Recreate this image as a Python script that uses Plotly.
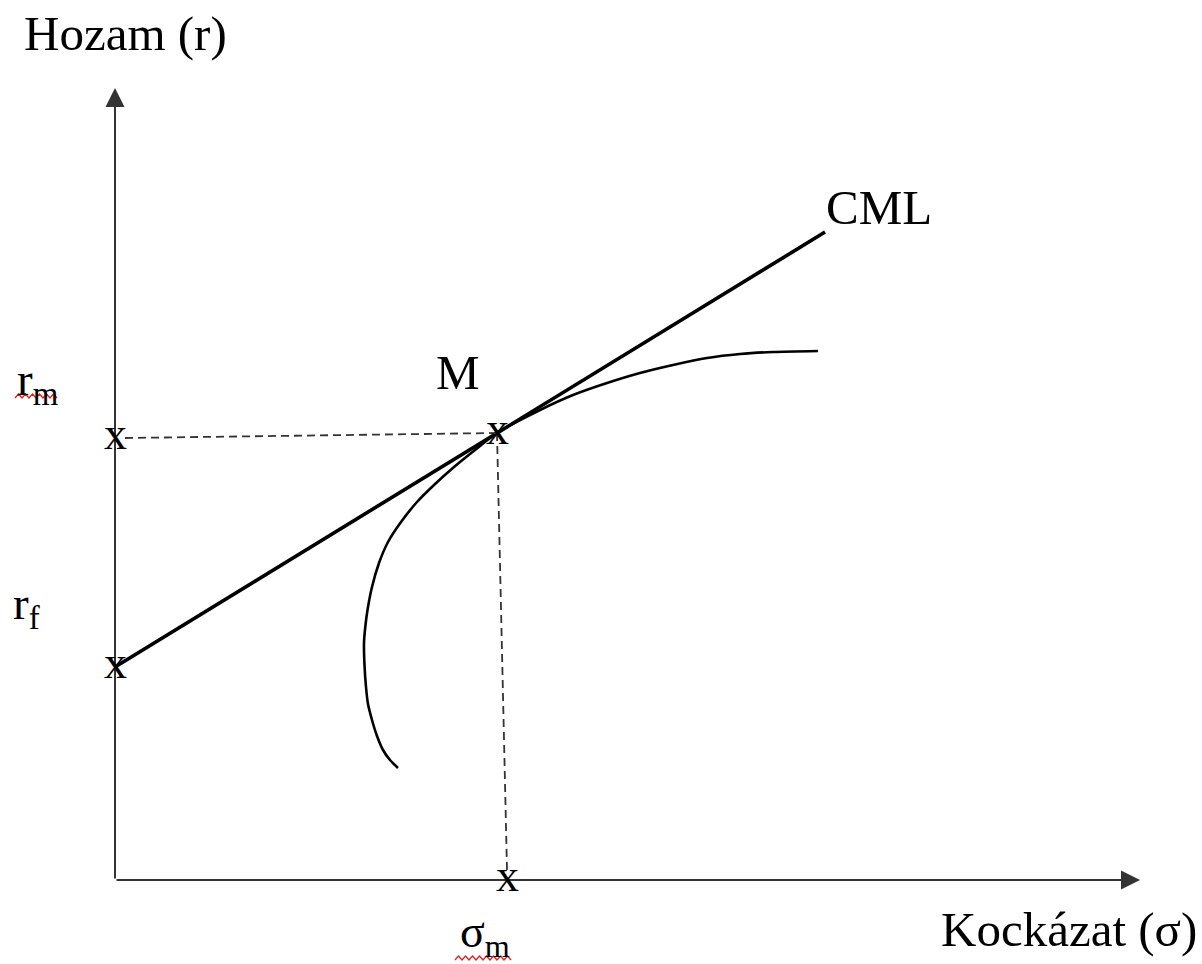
import plotly.graph_objects as go
import numpy as np

# ---- data (diagram units: sigma on x, return on y) ----
rf = 2.13            # risk-free return (CML intercept)
sigma_m = 3.82       # market portfolio risk
r_m = 4.47           # market portfolio return
cml_end_sigma = 7.10 # where the drawn CML stops
rm_tick_r = 4.42     # r_m marker on the vertical axis
sigma_tick = 3.92    # sigma_m marker on the horizontal axis

# efficient frontier
front_sigma = [2.83, 2.75, 2.68, 2.62, 2.57, 2.53, 2.51, 2.495, 2.49, 2.505, 2.525, 2.57,
               2.64, 2.73, 2.86, 3.02, 3.19, 3.39, 3.60, 3.82, 4.25, 4.58, 4.92, 5.25,
               5.58, 5.92, 6.25, 6.58, 7.03]
front_r = [1.12, 1.20, 1.30, 1.44, 1.60, 1.76, 1.93, 2.15, 2.37, 2.55, 2.70, 2.93,
           3.17, 3.38, 3.58, 3.78, 3.95, 4.13, 4.30, 4.47, 4.70, 4.85, 4.97, 5.07,
           5.15, 5.22, 5.26, 5.28, 5.29]

x_axis_end = 10.25
y_axis_end = 7.92

FONT = "Liberation Serif"
INK = "#000000"

slope = (r_m - rf) / sigma_m
cml_x = [0, sigma_m, cml_end_sigma]
cml_y = [rf, r_m, rf + slope * cml_end_sigma]

fig = go.Figure()

# efficient frontier
fig.add_trace(go.Scatter(x=front_sigma, y=front_r, mode="lines",
                         line=dict(color=INK, width=2.6, shape="spline", smoothing=0.7),
                         hoverinfo="skip", showlegend=False))
# CML
fig.add_trace(go.Scatter(x=cml_x, y=cml_y, mode="lines",
                         line=dict(color=INK, width=3.6),
                         hoverinfo="skip", showlegend=False))
# dashed guides
fig.add_trace(go.Scatter(x=[0.1, sigma_m], y=[rm_tick_r, r_m], mode="lines",
                         line=dict(color="#333", width=1.8, dash="8px,5px"),
                         hoverinfo="skip", showlegend=False))
fig.add_trace(go.Scatter(x=[sigma_m, sigma_tick], y=[r_m, 0.1], mode="lines",
                         line=dict(color="#333", width=1.8, dash="8px,5px"),
                         hoverinfo="skip", showlegend=False))

# axes with arrows
fig.add_annotation(x=x_axis_end, y=0, ax=0, ay=0, xref="x", yref="y", axref="x", ayref="y",
                   showarrow=True, arrowhead=2, arrowsize=1.9, arrowwidth=2,
                   arrowcolor="#333", text="")
fig.add_annotation(x=0, y=y_axis_end, ax=0, ay=0, xref="x", yref="y", axref="x", ayref="y",
                   showarrow=True, arrowhead=2, arrowsize=1.9, arrowwidth=2,
                   arrowcolor="#333", text="")

# x markers
for mx, my in [(0, rm_tick_r), (0, rf), (sigma_m, r_m), (sigma_tick, 0)]:
    fig.add_annotation(x=mx, y=my, text="x", showarrow=False, yshift=5,
                       font=dict(family=FONT, size=46, color=INK))

# labels
def label(txt, x, y, xanchor="center", size=49):
    fig.add_annotation(x=x, y=y, text=txt, showarrow=False, xanchor=xanchor, yanchor="middle",
                       font=dict(family=FONT, size=size, color=INK))

label("Hozam (r)", -0.93, 8.47, xanchor="left")
label("Kockázat (σ)", 10.84, -0.49, xanchor="right")
label("CML", 7.64, 6.73)
label("M", 3.43, 5.08)
label("r<sub>m</sub>", -0.77, 4.98, size=47)
label("r<sub>f</sub>", -0.89, 2.74, size=47)
label("σ<sub>m</sub>", 3.70, -0.55, size=46)

# red wavy spell-check underlines
def wavy(x0, x1, y, amp=0.02, period=0.07):
    xs = np.arange(x0, x1 + 1e-9, period / 2)
    pts = [f"{xv:.4f},{y + (amp if i % 2 else -amp):.4f}" for i, xv in enumerate(xs)]
    fig.add_shape(type="path", path="M" + " L".join(pts), xref="x", yref="y",
                  line=dict(color="#e02020", width=1.3))

wavy(-1.00, -0.55, 4.84)
wavy(3.40, 3.97, -0.78)

fig.update_xaxes(range=[-1.15, 10.87], visible=False, fixedrange=True)
fig.update_yaxes(range=[-0.84, 8.80], visible=False, fixedrange=True)
fig.update_layout(width=1202, height=964, margin=dict(l=0, r=0, t=0, b=0),
                  plot_bgcolor="white", paper_bgcolor="white", showlegend=False)

fig.write_html("out.html", config={"displayModeBar": False},
               post_script="document.body.style.margin='0';document.body.style.overflow='hidden';")
